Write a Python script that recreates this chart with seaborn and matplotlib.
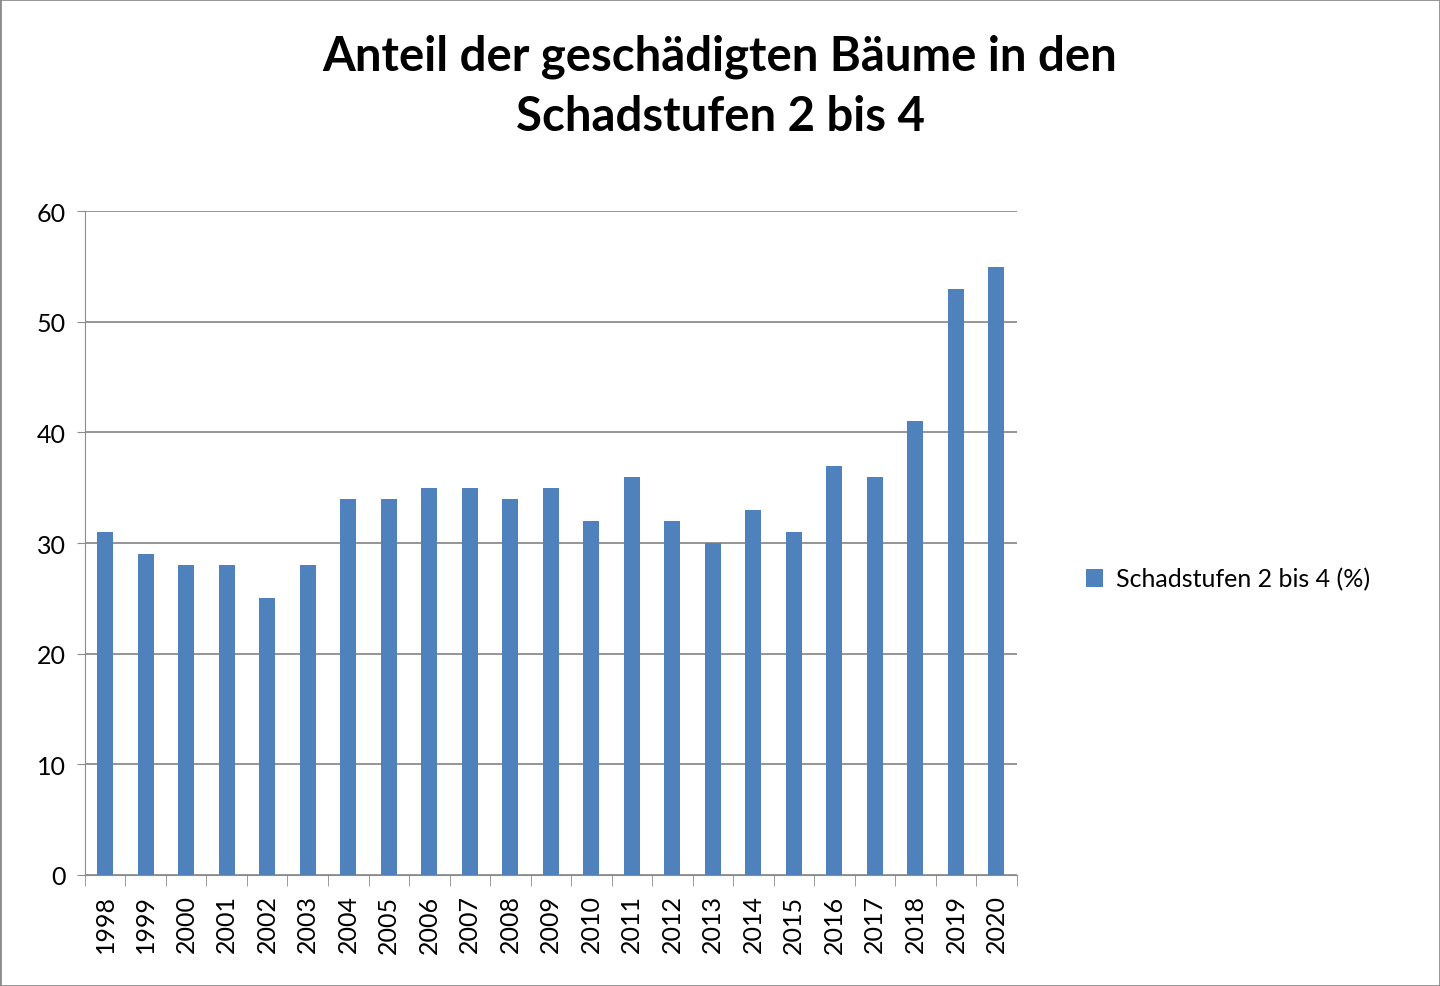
import matplotlib
matplotlib.use("Agg")
import matplotlib.pyplot as plt
import seaborn as sns
import pandas as pd
from matplotlib.patches import Rectangle

years = [str(y) for y in range(1998, 2021)]
values = [31, 29, 28, 28, 25, 28, 34, 34, 35, 35, 34, 35, 32, 36, 32, 30, 33, 31, 37, 36, 41, 53, 55]
series_name = "Schadstufen 2 bis 4 (%)"
title = "Anteil der geschädigten Bäume in den\nSchadstufen 2 bis 4"

df = pd.DataFrame({"Jahr": years, "Wert": values})
plt.rcParams["font.family"] = "Lato"

fig = plt.figure(figsize=(14.4, 9.87), dpi=100)
ax = fig.add_axes([0.059, 0.1125, 0.647, 0.6725])
sns.barplot(data=df, x="Jahr", y="Wert", color="#4F81BD", width=0.4, saturation=1, ax=ax, label=series_name)

ax.set_ylim(0, 60)
ax.set_yticks(range(0, 61, 10))
ax.set_xlim(-0.5, len(years) - 0.5)
ax.yaxis.grid(True, color="#8c8c8c", linewidth=1.3)
ax.set_axisbelow(True)
for s in ["top", "right"]:
    ax.spines[s].set_visible(False)
ax.spines["left"].set_color("#8c8c8c")
ax.spines["bottom"].set_color("#8c8c8c")
ax.set_xlabel("")
ax.set_ylabel("")
ax.tick_params(axis="y", length=6, color="#8c8c8c", labelsize=18, pad=8)
ax.tick_params(axis="x", length=0, labelsize=18, rotation=90, pad=14)
ax.set_xticks([i + 0.5 for i in range(-1, len(years))], minor=True)
ax.tick_params(axis="x", which="minor", length=8, color="#8c8c8c")

fig.text(0.5, 0.965, title, ha="center", va="top", fontsize=34, fontweight="bold",
         linespacing=1.45)
ax.legend(loc="center left", bbox_to_anchor=(1.05, 0.446), frameon=False, fontsize=18,
          handlelength=0.7, handleheight=0.7, handletextpad=0.5)

fig.patches.append(Rectangle((0, 0), 1, 1, transform=fig.transFigure, fill=False,
                             edgecolor="#8c8c8c", linewidth=2))
fig.savefig("out.png", dpi=100)
